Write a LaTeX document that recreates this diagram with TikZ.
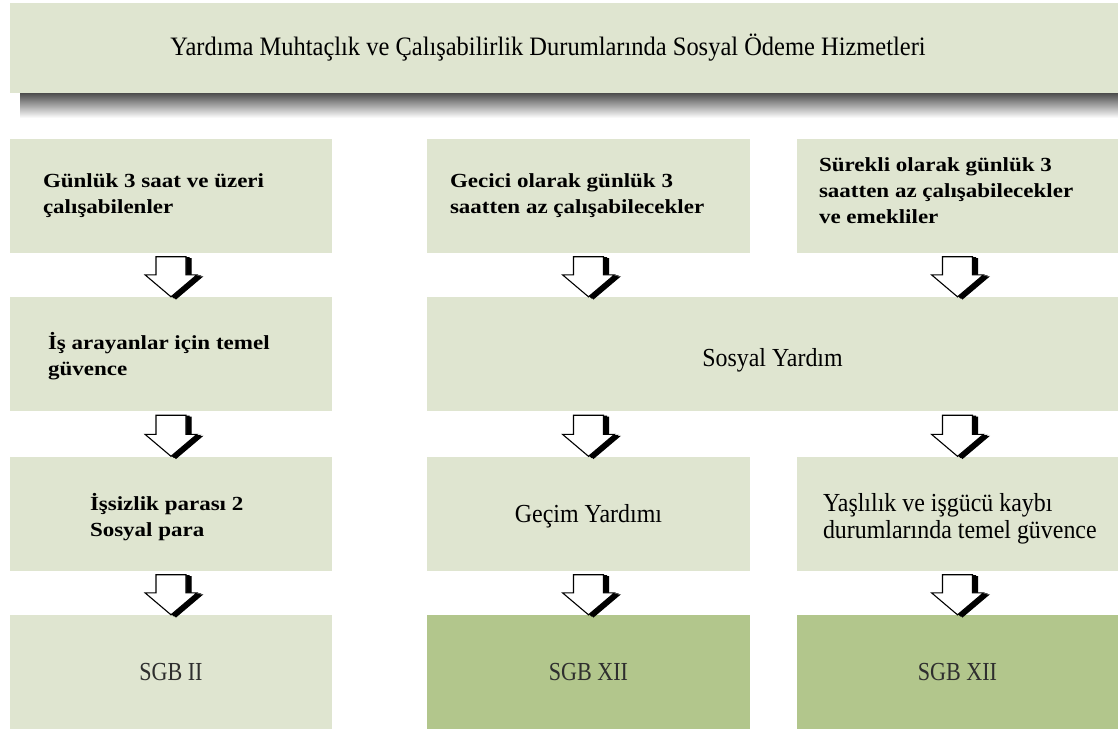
\documentclass[tikz,border=0pt]{standalone}
\usepackage{fontspec}
\setmainfont{Liberation Serif}
\newfontfamily\widefont[FakeStretch=1.15]{Liberation Serif}
\newfontfamily\tallfont[FakeStretch=0.92]{Liberation Serif}
\newfontfamily\narrowfont[FakeStretch=0.85]{Liberation Serif}
\usetikzlibrary{calc}

\definecolor{palegreen}{RGB}{223,229,208}
\definecolor{sagegreen}{RGB}{178,198,140}

\tikzset{
    box/.style={fill=palegreen, inner sep=0pt, minimum height=114pt},
    darkbox/.style={box, fill=sagegreen},
    bodytext/.style={font=\widefont\bfseries\fontsize{20}{26}\selectfont, align=left, inner sep=0pt},
    plaintext/.style={font=\tallfont\fontsize{26}{27}\selectfont, align=left, inner sep=0pt},
    sgbtext/.style={font=\narrowfont\fontsize{26}{30}\selectfont, text=black!82, inner sep=0pt},
    blockarrow/.style={draw=black, line width=1.1pt, line join=miter}
}

\begin{document}
\begin{tikzpicture}[x=1pt,y=-1pt]
    \useasboundingbox (0,0) rectangle (1118,731);

    % title bar with its shadow
    \shade[top color=black!70, bottom color=white] (20,93) rectangle (1118,118);
    \node[box, minimum width=1108pt, minimum height=90pt] (hdr) at (564,48) {};
    \node[plaintext, font=\tallfont\fontsize{26.6}{28}\selectfont] (hdrtext) at (548,48)
        {Yardıma Muhtaçlık ve Çalışabilirlik Durumlarında Sosyal Ödeme Hizmetleri};

    % boxes
    \node[box, minimum width=322pt] (gunluk) at (171,195.5) {};
    \node[box, minimum width=323pt] (gecici) at (588.5,195.5) {};
    \node[box, minimum width=321pt] (surekli) at (957.5,195.5) {};

    \node[box, minimum width=322pt] (isara) at (171,354) {};
    \node[box, minimum width=691pt] (sosyal) at (772.5,354) {};

    \node[box, minimum width=322pt] (issiz) at (171,513.5) {};
    \node[box, minimum width=323pt] (gecim) at (588.5,513.5) {};
    \node[box, minimum width=321pt] (yasli) at (957.5,513.5) {};

    \node[box, minimum width=322pt] (sgbA) at (171,672) {};
    \node[darkbox, minimum width=323pt] (sgbB) at (588.5,672) {};
    \node[darkbox, minimum width=321pt] (sgbC) at (957.5,672) {};

    % texts
    \node[bodytext, anchor=west] (gunluk-t) at ($(gunluk.west)+(33,0)$)
        {Günlük 3 saat ve üzeri\\çalışabilenler};
    \node[bodytext, anchor=west] (gecici-t) at ($(gecici.west)+(23,0)$)
        {Gecici olarak günlük 3\\saatten az çalışabilecekler};
    \node[bodytext, anchor=west] (surekli-t) at ($(surekli.west)+(22,-5)$)
        {Sürekli olarak günlük 3\\saatten az çalışabilecekler\\ve emekliler};
    \node[bodytext, anchor=west] (isara-t) at ($(isara.west)+(38,2)$)
        {İş arayanlar için temel\\güvence};
    \node[plaintext] (sosyal-t) at ($(sosyal.center)+(0,6)$) {Sosyal Yardım};
    \node[bodytext, anchor=west] (issiz-t) at ($(issiz.west)+(80,4)$)
        {İşsizlik parası 2\\Sosyal para};
    \node[plaintext] (gecim-t) at ($(gecim.center)+(0,3)$) {Geçim Yardımı};
    \node[plaintext, anchor=west] (yasli-t) at ($(yasli.west)+(26,5)$)
        {Yaşlılık ve işgücü kaybı\\durumlarında temel güvence};
    \node[sgbtext] (sgbA-t) at (sgbA.center) {SGB II};
    \node[sgbtext] (sgbB-t) at (sgbB.center) {SGB XII};
    \node[sgbtext] (sgbC-t) at (sgbC.center) {SGB XII};

    % block arrows, black copies first as the shadow
    \foreach \a/\b/\col in {gunluk/isara/gunluk, gecici/sosyal/gecici, surekli/sosyal/surekli,
                            isara/issiz/isara, sosyal/gecim/gecim, sosyal/yasli/yasli,
                            issiz/sgbA/sgbA, gecim/sgbB/sgbB, yasli/sgbC/sgbC}{
        \path (\a.south -| \col.center) coordinate (tail)
              (\b.north -| \col.center) coordinate (tip);
        \foreach \dx/\dy/\fc in {3/1/black, 5/2/black, 0/0/white}{
            \filldraw[blockarrow, fill=\fc]
                ($(tail)+(-15+\dx,4+\dy)$) -- ($(tail)+(15+\dx,4+\dy)$)
                -- ($(tip)+(15+\dx,-22+\dy)$) -- ($(tip)+(26+\dx,-22+\dy)$)
                -- ($(tip)+(\dx,\dy)$)
                -- ($(tip)+(-26+\dx,-22+\dy)$) -- ($(tip)+(-15+\dx,-22+\dy)$) -- cycle;
        }
    }
\end{tikzpicture}
\end{document}
